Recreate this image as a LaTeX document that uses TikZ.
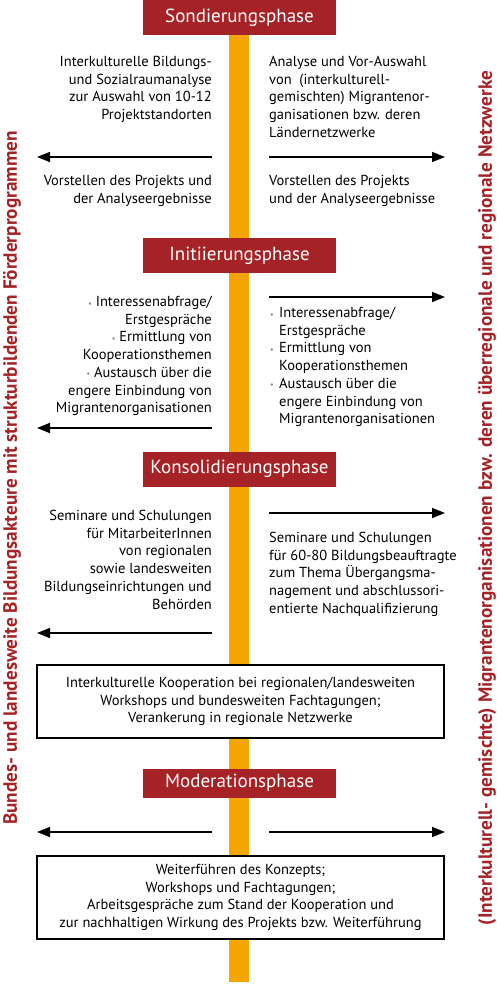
\documentclass[tikz,border=0pt]{standalone}
\usepackage{fontspec}
\setmainfont{PT Sans}
\usetikzlibrary{arrows.meta}
\definecolor{phasered}{HTML}{A52226}
\definecolor{barorange}{HTML}{F5A400}
\definecolor{bulletgray}{HTML}{808080}
\newcommand{\bul}{{\fontsize{8}{8}\selectfont\color{bulletgray}\raisebox{0.5pt}{•}}}
\newcommand{\bulbox}{\makebox[9pt][l]{\bul}}
\begin{document}
\begin{tikzpicture}[x=1pt,y=-1pt,
  phase/.style={fill=phasered,text=white,minimum width=193pt,minimum height=35pt,inner sep=0pt,font=\fontsize{19}{20}\selectfont},
  body/.style={inner sep=0pt,font=\fontsize{14.5}{17.7}\selectfont},
  lefttext/.style={body,align=right,anchor=north east},
  righttext/.style={body,align=left,anchor=north west},
  midtext/.style={body,align=center},
  infobox/.style={draw=black,line width=1.5pt,fill=white,minimum width=407pt,inner sep=0pt,midtext},
  arr/.style={line width=1.5pt,-{Triangle[length=13pt,width=10pt]}},
  side/.style={rotate=90,text=phasered,inner sep=0pt,font=\fontsize{19.2}{20}\selectfont\bfseries}
]
\useasboundingbox (0,0) rectangle (496,984);
\fill[white] (0,0) rectangle (496,984);
% central bar
\fill[barorange] (229,0) rectangle (249,982);

% Sondierungsphase
\node[phase] (p1) at (239.5,17.5) {Sondierungsphase};
\node[lefttext] (s1l) at (212,56) {Interkulturelle Bildungs-\\und Sozialraumanalyse\\zur Auswahl von 10-12\\Projektstandorten};
\node[righttext] (s1r) at (269,56) {Analyse und Vor-Auswahl\\von\ \ (interkulturell-\\gemischten) Migrantenor-\\ganisationen bzw. deren\\Ländernetzwerke};
\coordinate (a1ls) at (212,157); \coordinate (a1le) at (37,157);
\coordinate (a1rs) at (269,157); \coordinate (a1re) at (445,157);
\draw[arr] (a1ls) -- (a1le);
\draw[arr] (a1rs) -- (a1re);
\node[lefttext] (s2l) at (212,175) {Vorstellen des Projekts und\\der Analyseergebnisse};
\node[righttext] (s2r) at (269,175) {Vorstellen des Projekts\\und der Analyseergebnisse};

% Initiierungsphase
\node[phase] (p2) at (239.5,255.5) {Initiierungsphase};
\node[lefttext] (i1l) at (212,296) {\bul\ Interessenabfrage/\\Erstgespräche\\\bul\ Ermittlung von\\Kooperationsthemen\\\bul\ Austausch über die\\engere Einbindung von\\Migrantenorganisationen};
\node[righttext] (i1r) at (270,307) {\bulbox Interessenabfrage/\\\hspace*{9pt}Erstgespräche\\\bulbox Ermittlung von\\\hspace*{9pt}Kooperationsthemen\\\bulbox Austausch über die\\\hspace*{9pt}engere Einbindung von\\\hspace*{9pt}Migrantenorganisationen};
\coordinate (a2rs) at (269,297); \coordinate (a2re) at (445,297);
\coordinate (a2ls) at (212,428); \coordinate (a2le) at (37,428);
\draw[arr] (a2rs) -- (a2re);
\draw[arr] (a2ls) -- (a2le);

% Konsolidierungsphase
\node[phase] (p3) at (239.5,469) {Konsolidierungsphase};
\node[lefttext] (k1l) at (212,510) {Seminare und Schulungen\\für MitarbeiterInnen\\von regionalen\\sowie landesweiten\\Bildungseinrichtungen und\\Behörden};
\node[righttext] (k1r) at (269,532) {Seminare und Schulungen\\für 60-80 Bildungsbeauftragte\\zum Thema Übergangsma-\\nagement und abschlussori-\\entierte Nachqualifizierung};
\coordinate (a3rs) at (269,513); \coordinate (a3re) at (445,513);
\coordinate (a3ls) at (212,633); \coordinate (a3le) at (37,633);
\draw[arr] (a3rs) -- (a3re);
\draw[arr] (a3ls) -- (a3le);
\node[infobox,minimum height=73pt] (b1) at (240.5,701.5) {Interkulturelle Kooperation bei regionalen/landesweiten\\Workshops und bundesweiten Fachtagungen;\\Verankerung in regionale Netzwerke};

% Moderationsphase
\node[phase,minimum height=29pt] (p4) at (239.5,783) {Moderationsphase};
\coordinate (a4ls) at (212,832); \coordinate (a4le) at (37,832);
\coordinate (a4rs) at (269,832); \coordinate (a4re) at (445,832);
\draw[arr] (a4ls) -- (a4le);
\draw[arr] (a4rs) -- (a4re);
\node[infobox,minimum height=83pt] (b2) at (240.5,897.5) {Weiterführen des Konzepts;\\Workshops und Fachtagungen;\\Arbeitsgespräche zum Stand der Kooperation und\\zur nachhaltigen Wirkung des Projekts bzw. Weiterführung};

% side labels
\node[side] (sl) at (12,478) {Bundes- und landesweite Bildungsakteure mit strukturbildenden Förderprogrammen};
\node[side] (sr) at (487,498) {(Interkulturell- gemischte) Migrantenorganisationen bzw. deren überregionale und regionale Netzwerke};
\end{tikzpicture}
\end{document}
